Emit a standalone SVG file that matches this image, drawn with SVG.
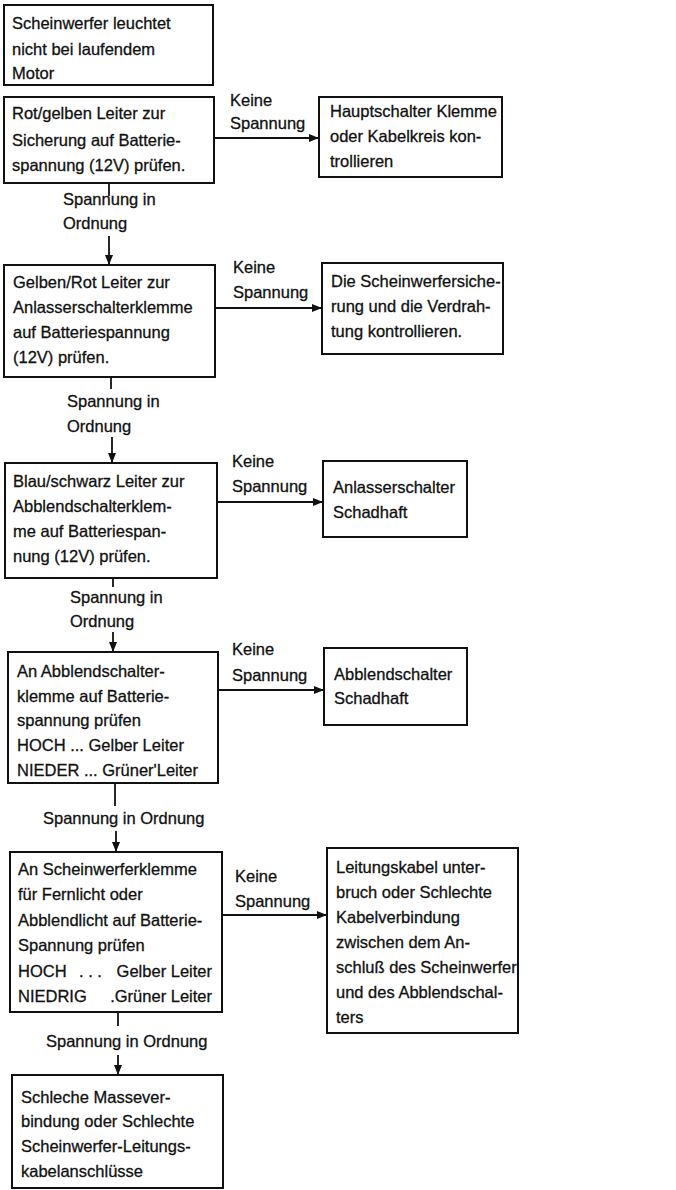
<svg xmlns="http://www.w3.org/2000/svg" width="676" height="1190" viewBox="0 0 676 1190">
<style>
.box{fill:#fff;stroke:#111;stroke-width:2}
.t{font-family:"Liberation Sans",Arial,sans-serif;font-size:16.5px;fill:#111;stroke:#111;stroke-width:0.3}
.c{fill:none;stroke:#111;stroke-width:1.8}
</style>
<defs>
<marker id="ah" markerWidth="10" markerHeight="8" refX="9" refY="4" orient="auto" markerUnits="userSpaceOnUse">
<path d="M0,0 L10,4 L0,8 z" fill="#111"/>
</marker>
</defs>
<rect width="676" height="1190" fill="#fff"/>
<g id="n1"><rect class="box" x="4" y="5" width="209" height="80"/>
<text class="t" x="12" y="29">Scheinwerfer leuchtet</text>
<text class="t" x="12" y="55">nicht bei laufendem</text>
<text class="t" x="12" y="79">Motor</text></g>
<g id="n2"><rect class="box" x="4" y="97" width="210" height="86"/>
<text class="t" x="12" y="119">Rot/gelben Leiter zur</text>
<text class="t" x="12" y="146">Sicherung auf Batterie-</text>
<text class="t" x="12" y="171">spannung (12V) prüfen.</text></g>
<g id="r1"><rect class="box" x="319" y="97" width="183" height="80"/>
<text class="t" x="330" y="117">Hauptschalter Klemme</text>
<text class="t" x="330" y="142">oder Kabelkreis kon-</text>
<text class="t" x="330" y="167">trollieren</text></g>
<g id="n3"><rect class="box" x="4" y="265" width="211" height="112"/>
<text class="t" x="13" y="288">Gelben/Rot Leiter zur</text>
<text class="t" x="13" y="313">Anlasserschalterklemme</text>
<text class="t" x="13" y="338">auf Batteriespannung</text>
<text class="t" x="13" y="363">(12V) prüfen.</text></g>
<g id="r2"><rect class="box" x="322" y="263" width="181" height="91"/>
<text class="t" x="331" y="287">Die Scheinwerfersiche-</text>
<text class="t" x="331" y="312">rung und die Verdrah-</text>
<text class="t" x="331" y="337">tung kontrollieren.</text></g>
<g id="n4"><rect class="box" x="5" y="463" width="212" height="115"/>
<text class="t" x="13" y="487">Blau/schwarz Leiter zur</text>
<text class="t" x="13" y="512">Abblendschalterklem-</text>
<text class="t" x="13" y="537">me auf Batteriespan-</text>
<text class="t" x="13" y="562">nung (12V) prüfen.</text></g>
<g id="r3"><rect class="box" x="323" y="461" width="144" height="76"/>
<text class="t" x="333" y="493">Anlasserschalter</text>
<text class="t" x="333" y="518">Schadhaft</text></g>
<g id="n5"><rect class="box" x="8" y="652" width="210" height="131"/>
<text class="t" x="17" y="677">An Abblendschalter-</text>
<text class="t" x="17" y="702">klemme auf Batterie-</text>
<text class="t" x="17" y="726">spannung prüfen</text>
<text class="t" x="17" y="751">HOCH ... Gelber Leiter</text>
<text class="t" x="17" y="776">NIEDER ... Grüner'Leiter</text></g>
<g id="r4"><rect class="box" x="324" y="648" width="143" height="77"/>
<text class="t" x="334" y="680">Abblendschalter</text>
<text class="t" x="334" y="704">Schadhaft</text></g>
<g id="n6"><rect class="box" x="10" y="852" width="212" height="160"/>
<text class="t" x="18" y="875">An Scheinwerferklemme</text>
<text class="t" x="18" y="900">für Fernlicht oder</text>
<text class="t" x="18" y="926">Abblendlicht auf Batterie-</text>
<text class="t" x="18" y="951">Spannung prüfen</text>
<text class="t" x="18" y="977">HOCH</text><text class="t" x="79" y="977">. . .</text><text class="t" x="212" y="977" text-anchor="end">Gelber Leiter</text>
<text class="t" x="18" y="1002">NIEDRIG</text><text class="t" x="212" y="1002" text-anchor="end">.Grüner Leiter</text></g>
<g id="r5"><rect class="box" x="327" y="848" width="191" height="185"/>
<text class="t" x="336" y="873">Leitungskabel unter-</text>
<text class="t" x="336" y="898">bruch oder Schlechte</text>
<text class="t" x="336" y="923">Kabelverbindung</text>
<text class="t" x="336" y="948">zwischen dem An-</text>
<text class="t" x="336" y="973">schluß des Scheinwerfer</text>
<text class="t" x="336" y="998">und des Abblendschal-</text>
<text class="t" x="336" y="1023">ters</text></g>
<g id="n7"><rect class="box" x="12" y="1075" width="211" height="113"/>
<text class="t" x="21" y="1103">Schleche Massever-</text>
<text class="t" x="21" y="1127">bindung oder Schlechte</text>
<text class="t" x="21" y="1152">Scheinwerfer-Leitungs-</text>
<text class="t" x="21" y="1177">kabelanschlüsse</text></g>
<g id="connectors">
<path class="c" d="M214,138 H318" marker-end="url(#ah)"/>
<path class="c" d="M109,183 V196 M109,236 V264" marker-end="url(#ah)"/>
<path class="c" d="M215,308 H321" marker-end="url(#ah)"/>
<path class="c" d="M111,377 V389 M112,437 V462" marker-end="url(#ah)"/>
<path class="c" d="M217,502 H322" marker-end="url(#ah)"/>
<path class="c" d="M113,578 V587 M113,632 V651" marker-end="url(#ah)"/>
<path class="c" d="M218,690 H323" marker-end="url(#ah)"/>
<path class="c" d="M115,783 V806 M116,831 V851" marker-end="url(#ah)"/>
<path class="c" d="M222,915 H326" marker-end="url(#ah)"/>
<path class="c" d="M118,1012 V1026 M118,1055 V1074" marker-end="url(#ah)"/>
<text class="t" x="230" y="106">Keine</text><text class="t" x="230" y="129">Spannung</text>
<text class="t" x="63" y="205">Spannung in</text><text class="t" x="63" y="229">Ordnung</text>
<text class="t" x="233" y="273">Keine</text><text class="t" x="233" y="298">Spannung</text>
<text class="t" x="67" y="407">Spannung in</text><text class="t" x="67" y="432">Ordnung</text>
<text class="t" x="232" y="467">Keine</text><text class="t" x="232" y="492">Spannung</text>
<text class="t" x="70" y="603">Spannung in</text><text class="t" x="70" y="627">Ordnung</text>
<text class="t" x="232" y="655">Keine</text><text class="t" x="232" y="681">Spannung</text>
<text class="t" x="43" y="824">Spannung in Ordnung</text>
<text class="t" x="235" y="882">Keine</text><text class="t" x="235" y="907">Spannung</text>
<text class="t" x="46" y="1047">Spannung in Ordnung</text>
</g>
</svg>
